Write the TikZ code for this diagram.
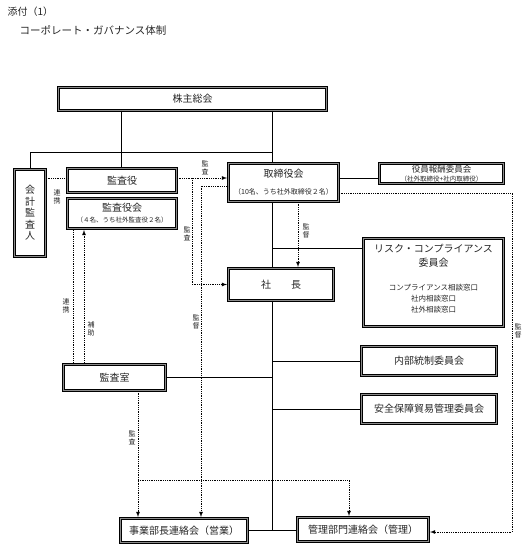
\documentclass[tikz,border=0pt]{standalone}
\usepackage{fontspec}
\setmainfont{Noto Sans CJK JP}
\usetikzlibrary{shadows,positioning}
\tikzset{
	box/.style={draw=black, line width=0.6pt, double=black!45, double distance=1pt, fill=white,
		drop shadow={shadow xshift=1.6pt, shadow yshift=-1.6pt, fill=black!45, opacity=1},
		inner sep=1pt, align=center, text=black!85, font=\fontsize{10}{12}\selectfont},
	link/.style={line width=0.8pt},
	dots/.style={densely dotted, line width=0.8pt, shorten >=1.2pt},
	vlab/.style={inner sep=0pt, align=center, text=black!85, font=\fontsize{7}{7.5}\selectfont},
}
\begin{document}
\begin{tikzpicture}[x=1pt,y=-1pt,>=latex]
		\useasboundingbox (0,0) rectangle (527,553);
		\node[anchor=west, text=black!85, font=\fontsize{10}{11}\selectfont] (tenpu) at (4,12) {添付（1）};
		\node[anchor=west, text=black!85, font=\fontsize{10.5}{12}\selectfont] (title) at (16,30) {コーポレート・ガバナンス体制};
		\node[box, minimum width=268pt, minimum height=23pt] (kabunushi) at (192.5,99) {株主総会};
		\node[box, minimum width=31pt, minimum height=87pt, font=\fontsize{10}{11.5}\selectfont] (kaikei) at (30,213) {会\\計\\監\\査\\人};
		\node[box, minimum width=109pt, minimum height=24pt] (kansayaku) at (122,180.5) {監査役};
		\node[box, minimum width=109pt, minimum height=30pt] (kansayakukai) at (122,213.5) {監査役会\\[-1pt]{\fontsize{6.5}{7}\selectfont （４名、うち社外監査役２名）}};
		\node[box, minimum width=110pt, minimum height=38pt] (torishimari) at (283.5,182.5) {取締役会\\[5pt]{\fontsize{7}{8}\selectfont （10名、うち社外取締役２名）}};
		\node[box, minimum width=124pt, minimum height=20pt, font=\fontsize{8.5}{9}\selectfont] (houshu) at (441.5,173.5) {役員報酬委員会\\{\fontsize{6.5}{7}\selectfont （社外取締役+社内取締役）}};
		\node[box, minimum width=140pt, minimum height=88pt] (risk) at (433.5,282.5) {};
		\node[below=6pt of risk.north, inner sep=0pt, align=center, text=black!85, font=\fontsize{10}{14}\selectfont] (risktitle) {リスク・コンプライアンス\\委員会};
		\node[below=16pt of risktitle, inner sep=0pt, align=center, text=black!85, font=\fontsize{7.5}{11}\selectfont] (riskdesk) {コンプライアンス相談窓口\\社内相談窓口\\社外相談窓口};
		\node[box, minimum width=105pt, minimum height=32pt] (shacho) at (281,284.5) {社\hspace{2em}長};
		\node[box, minimum width=135pt, minimum height=29pt] (naibu) at (429,361) {内部統制委員会};
		\node[box, minimum width=135pt, minimum height=29pt] (anzen) at (429,409) {安全保障貿易管理委員会};
		\node[box, minimum width=102pt, minimum height=26pt] (kansashitsu) at (114.5,377.5) {監査室};
		\node[box, minimum width=127pt, minimum height=24pt] (jigyo) at (184,530.5) {事業部長連絡会（営業）};
		\node[box, minimum width=131pt, minimum height=24pt] (kanri) at (363,529.5) {管理部門連絡会（管理）};
		\coordinate (spine) at (272,0);
		\coordinate (bus) at (272,152);
		\coordinate (kansabranch) at (192,178);
		\coordinate (kansasplit) at (138,480);
		\draw[link] (kabunushi.south -| spine) -- (torishimari.north -| spine);
		\draw[link] (kabunushi.south -| 121,0) -- (kansayaku.north -| 121,0);
		\draw[link] (kaikei.north) |- (bus);
		\draw[link] (torishimari.east |- 0,178) -- (houshu.west |- 0,178);
		\draw[link] (torishimari.south -| spine) -- (shacho.north -| spine);
		\draw[link] (shacho.south -| spine) -- (spine |- jigyo.east);
		\draw[link] (jigyo.east) -- (kanri.west |- jigyo.east);
		\draw[link] (spine |- 0,248) -- (risk.west |- 0,248);
		\draw[link] (spine |- naibu.west) -- (naibu.west);
		\draw[link] (spine |- anzen.west) -- (anzen.west);
		\draw[link] (kansashitsu.east) -- (spine |- kansashitsu.east);
		\draw[dots] (kaikei.east |- 0,178) -- (kansayaku.west |- 0,178);
		\draw[dots,->] (kansayaku.east |- 0,178) -- (torishimari.west |- 0,178);
		\draw[dots,->] (kansabranch) |- (shacho.west);
		\draw[dots,->] (torishimari.west |- 0,186) -| (jigyo.north -| 201,0);
		\draw[dots,->] (torishimari.south -| 298,0) -- (shacho.north -| 298,0);
		\draw[dots,->] (torishimari.east |- 0,193) -| (512,532) -- (kanri.east |- 0,532);
		\draw[dots] (kansashitsu.north -| 73,0) -- (kansayakukai.south -| 73,0);
		\draw[dots,->] (kansashitsu.north -| 84,0) -- (kansayakukai.south -| 84,0);
		\draw[dots,->] (kansashitsu.south -| 138,0) -- (jigyo.north -| 138,0);
		\draw[dots,->] (kansasplit) -| (kanri.north -| 349,0);
		\node[vlab] (renkei1) at (57,197) {連\\携};
		\node[vlab] (kansa1) at (205,168) {監\\査};
		\node[vlab] (kansa2) at (187,234) {監\\査};
		\node[vlab] (kantoku1) at (306,231) {監\\督};
		\node[vlab] (kantoku2) at (196,322) {監\\督};
		\node[vlab] (kantoku3) at (518,331) {監\\督};
		\node[vlab] (renkei2) at (66,306) {連\\携};
		\node[vlab] (hojo) at (91,329) {補\\助};
		\node[vlab] (kansa3) at (132,438) {監\\査};
\end{tikzpicture}
\end{document}
